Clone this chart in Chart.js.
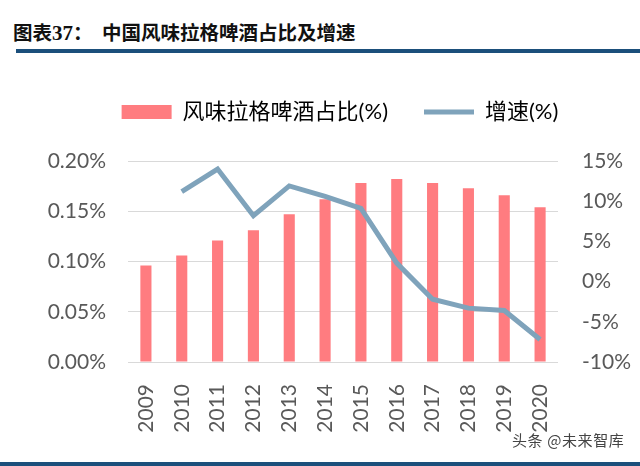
<!DOCTYPE html>
<html>
<head>
<meta charset="utf-8">
<script src="https://cdn.jsdelivr.net/npm/chart.js@4/dist/chart.umd.min.js"></script>
<style>
  html, body { margin: 0; padding: 0; background: #fff; }
  #wrap { position: relative; width: 640px; height: 466px; overflow: hidden; }
  #title { position: absolute; left: 13px; top: 17px; font-family: "Noto Sans CJK SC", sans-serif; font-weight: 700; font-size: 19.5px; color: #111; white-space: pre; }
  #title .num { font-family: "Liberation Serif", serif; font-size: 21px; }
  #title .main { position: absolute; left: 89px; top: 0; }
  #rule-top { position: absolute; left: 16px; right: 0; top: 49px; height: 4px; background: #1b4f7b; }
  #rule-bottom { position: absolute; left: 0; right: 0; top: 462px; height: 4px; background: #1b4f7b; }
  #mark { position: absolute; left: 512px; top: 429px; font-family: "Noto Sans CJK SC", sans-serif; font-size: 15px; letter-spacing: 0.6px; color: #444; }
  #c { position: absolute; left: 0; top: 40px; }
</style>
</head>
<body>
<div id="wrap">
  <div id="title">图表<span class="num">37</span>：<span class="main">中国风味拉格啤酒占比及增速</span></div>
  <div id="rule-top"></div>
  <canvas id="c" width="640" height="400"></canvas>
  <div id="mark">头条 @未来智库</div>
  <div id="rule-bottom"></div>
</div>
<script>
// 年份与两组数据
const years = ['2009', '2010', '2011', '2012', '2013', '2014', '2015', '2016', '2017', '2018', '2019', '2020'];
const shareValues = [0.096, 0.106, 0.121, 0.131, 0.147, 0.162, 0.178, 0.182, 0.178, 0.173, 0.166, 0.154];
const growthValues = [null, 11.2, 14.0, 8.2, 11.9, 10.6, 9.1, 2.3, -2.2, -3.3, -3.6, -7.2];

const FONT = 'Lato, "Noto Sans CJK SC", sans-serif';
const TEXT = '#595959';
const BAR = '#ff7c80';
const LINE = '#7fa3bb';

// 图例下方留出更大的空白
const legendGap = {
  id: 'legendGap',
  beforeInit(chart) {
    const fit = chart.legend.fit;
    chart.legend.fit = function () {
      fit.call(this);
      this.height += 28;
    };
  },
};

new Chart(document.getElementById('c'), {
  data: {
    labels: years,
    datasets: [
      { type: 'line', label: '增速(%)', data: growthValues, yAxisID: 'y1', borderColor: LINE, backgroundColor: LINE, borderWidth: 5, pointRadius: 0, tension: 0, order: 0 },
      { type: 'bar', label: '风味拉格啤酒占比(%)', data: shareValues, yAxisID: 'y', backgroundColor: BAR, barPercentage: 0.31, categoryPercentage: 1, order: 1 },
    ],
  },
  options: {
    responsive: false,
    animation: false,
    layout: { padding: { top: 25, left: 40, right: 0, bottom: 0 } },
    plugins: {
      tooltip: { enabled: false },
      legend: {
        position: 'top',
        labels: {
          usePointStyle: true,
          pointStyleWidth: 50,
          boxHeight: 14,
          padding: 36,
          color: TEXT,
          font: { family: FONT, size: 22 },
          generateLabels: () => [
            { text: '风味拉格啤酒占比(%)', pointStyle: 'rect', fillStyle: BAR, strokeStyle: BAR, lineWidth: 0, datasetIndex: 1 },
            { text: '增速(%)', pointStyle: 'line', strokeStyle: LINE, fillStyle: LINE, lineWidth: 5, datasetIndex: 0 },
          ],
        },
      },
    },
    scales: {
      x: {
        afterFit: (s) => { s.height = 78; },
        grid: { display: false },
        border: { display: false },
        ticks: { color: TEXT, font: { family: FONT, size: 21 }, minRotation: 90, maxRotation: 90, padding: 14 },
      },
      y: {
        position: 'left',
        min: 0, max: 0.2,
        afterFit: (s) => { s.width = 88; },
        grid: { color: '#d9d9d9', lineWidth: 1, drawTicks: false },
        border: { display: false },
        ticks: { stepSize: 0.05, padding: 22, color: TEXT, font: { family: FONT, size: 21 }, callback: (v) => v.toFixed(2) + '%' },
      },
      y1: {
        position: 'right',
        min: -10, max: 15,
        afterFit: (s) => { s.width = 82; },
        grid: { display: false, drawTicks: false },
        border: { display: false },
        ticks: { stepSize: 5, padding: 24, color: TEXT, font: { family: FONT, size: 21 }, callback: (v) => v + '%' },
      },
    },
  },
  plugins: [legendGap],
});
</script>
</body>
</html>
